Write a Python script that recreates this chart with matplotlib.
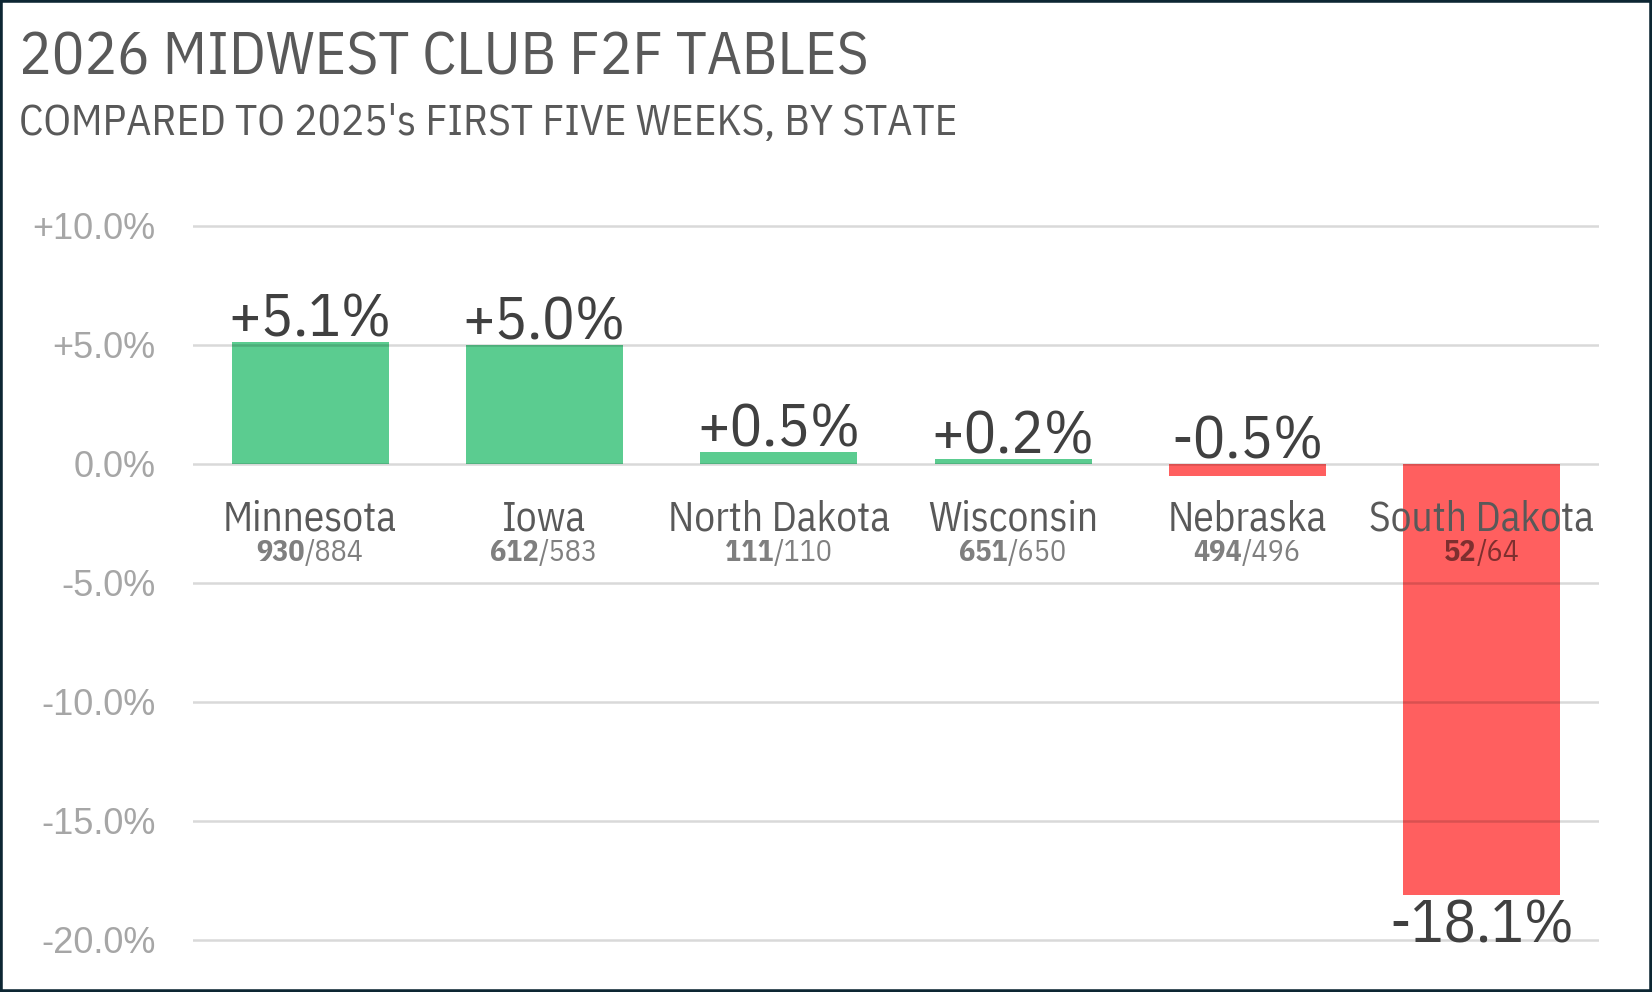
import matplotlib
matplotlib.use("Agg")
import matplotlib.pyplot as plt
from matplotlib.offsetbox import TextArea, HPacker, AnnotationBbox
from matplotlib.patches import Rectangle

# data
states = ["Minnesota", "Iowa", "North Dakota", "Wisconsin", "Nebraska", "South Dakota"]
change = [5.1, 5.0, 0.5, 0.2, -0.5, -18.1]
tables_2026 = [930, 612, 111, 651, 494, 52]
tables_2025 = [884, 583, 110, 650, 496, 64]
yticks = [10, 5, 0, -5, -10, -15, -20]
ytick_labels = ["+10.0%", "+5.0%", "0.0%", "-5.0%", "-10.0%", "-15.0%", "-20.0%"]

cond = ["IBM Plex Sans Condensed", "DejaVu Sans"]
plain = ["Liberation Sans", "DejaVu Sans"]

GREEN = "#5bcc90"
RED = "#ff5f5f"

fig = plt.figure(figsize=(16.52, 9.92), dpi=100)
ax = fig.add_axes([0.1168, 0.04526, 0.851, 0.7345])

colors = [GREEN if v >= 0 else RED for v in change]
x = list(range(len(states)))
ax.bar(x, change, width=0.67, color=colors, zorder=1)

ax.set_xlim(-0.5, len(states) - 0.5)
ax.set_ylim(-20.3, 10.3)
ax.set_yticks(yticks)
ax.set_yticklabels(ytick_labels, family=plain, fontsize=26, color="#a6a6a6")
ax.set_xticks([])
ax.tick_params(axis="y", length=0, pad=27)
for s in ax.spines.values():
    s.set_visible(False)
# grid drawn over the bars, semi-transparent like the original
ax.set_axisbelow(False)
ax.yaxis.grid(True, color="black", alpha=0.15, linewidth=1.8)

for i, v in enumerate(change):
    lab = ("+%.1f%%" % v) if v >= 0 else ("%.1f%%" % v)
    if v > -5:
        ax.annotate(lab, (i, max(v, 0)), xytext=(0, 4), textcoords="offset points",
                    ha="center", va="baseline", fontsize=43.5, color="#404040",
                    family=cond, zorder=5)
    else:
        ax.annotate(lab, (i, v), xytext=(0, -2), textcoords="offset points",
                    ha="center", va="top", fontsize=43.5, color="#404040",
                    family=cond, zorder=5)

    ax.annotate(states[i], (i, 0), xytext=(0, -48), textcoords="offset points",
                ha="center", va="baseline", fontsize=29.7, color="#595959",
                family=cond, zorder=5)
    sub = HPacker(children=[
        TextArea(str(tables_2026[i]), textprops=dict(fontsize=21.6, fontweight="bold",
                 color=(0, 0, 0, 0.5), family=cond)),
        TextArea("/" + str(tables_2025[i]), textprops=dict(fontsize=21.6,
                 color=(0, 0, 0, 0.5), family=cond)),
    ], sep=0, pad=0, align="baseline")
    ab = AnnotationBbox(sub, (i, 0), xybox=(0, -54), xycoords="data",
                        boxcoords="offset points", box_alignment=(0.5, 1),
                        frameon=False, pad=0, zorder=5)
    ax.add_artist(ab)

fig.text(0.0115, 0.9254, "2026 MIDWEST CLUB F2F TABLES", fontsize=43.6,
         color="#595959", family=cond, va="baseline")
fig.text(0.0115, 0.8639, "COMPARED TO 2025's FIRST FIVE WEEKS, BY STATE", fontsize=31.2,
         color="#595959", family=cond, va="baseline")

fig.patches.append(Rectangle((0, 0), 1, 1, transform=fig.transFigure, fill=False,
                             edgecolor="#0d2633", linewidth=4, zorder=10))

fig.savefig("out.png", dpi=100)
